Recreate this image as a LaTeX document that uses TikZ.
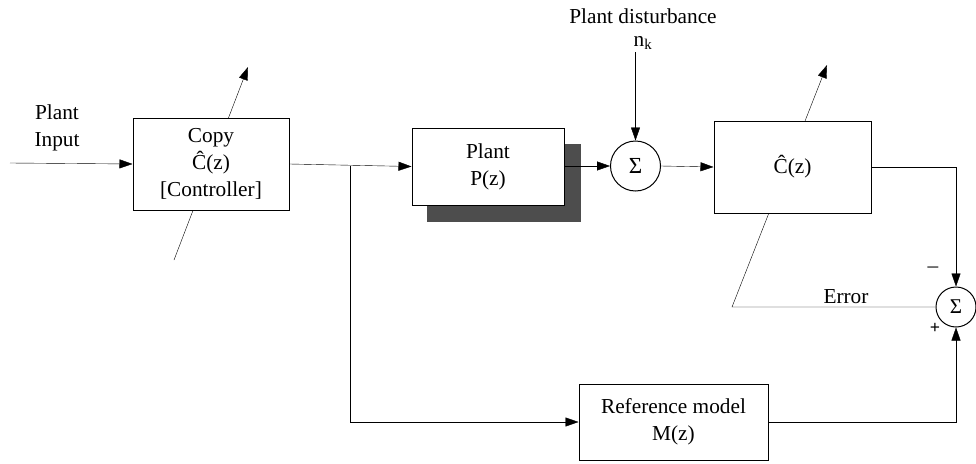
\documentclass[tikz,border=0pt]{standalone}
\usepackage{fontspec}
\setmainfont{Liberation Serif}
\usetikzlibrary{arrows.meta}
\pgfdeclarelayer{background}
\pgfsetlayers{background,main}
\definecolor{shadowgray}{HTML}{4D4D4D}
\begin{document}
\begin{tikzpicture}[x=1pt,y=-1pt,
  line width=1pt,
  >={Triangle[length=13pt,width=9pt]},
  txt/.style={font=\fontsize{21.3}{27}\selectfont, align=center, inner sep=0pt},
  block/.style={draw, fill=white, txt},
  sumnode/.style={draw, circle, fill=white, inner sep=0pt, font=\fontsize{23}{23}\selectfont}]
\useasboundingbox (0,0) rectangle (976,463);

% blocks
\fill[shadowgray] (427,144) rectangle (581,222);
\node[block, minimum width=156pt, minimum height=92pt] (copy) at (211,164) {Copy\\Ĉ(z)\\{[}Controller{]}};
\node[block, minimum width=152pt, minimum height=77pt] (plant) at (488,166.5) {Plant\\P(z)};
\node[sumnode, minimum size=50pt] (sum1) at (635.5,166) {Σ};
\node[block, minimum width=157pt, minimum height=92pt] (chat) at (792.5,167) {Ĉ(z)};
\node[sumnode, minimum size=40pt, font=\fontsize{21}{21}\selectfont] (sum2) at (956,307) {Σ};
\node[block, minimum width=189pt, minimum height=76pt] (ref) at (673.5,422) {Reference model\\M(z)};

% labels
\node[txt] (inlbl) at (57,128) {Plant\\Input};
\node[txt] (distlbl) at (643,16) {Plant disturbance};
\node[txt] (nk) at (643,43) {n\textsubscript{k}};
\node[txt] (errlbl) at (846,297) {Error};
\node[txt] (minus) at (933,270) {–};
\node[txt, font=\fontsize{18}{18}\selectfont\bfseries] (plus) at (935,328) {+};

% free ends
\coordinate (inpt) at (10,163);
\coordinate (copyLo) at (174,260);
\coordinate (copyHi) at (248,67);
\coordinate (distTop) at (635.5,52);
\coordinate (branch) at (350,165.5);
\coordinate (branchLo) at (350,422);
\coordinate (errL) at (732,307);
\coordinate (chatHi) at (827,65);
\coordinate (chatCorner) at (956,167);
\coordinate (refCorner) at (956,422);

% adaptation arrows run behind the blocks
\begin{pgfonlayer}{background}
  \draw[->] (copyLo) -- (copyHi);
  \draw[->] (sum2.west) -- (errL) -- (chatHi);
\end{pgfonlayer}

% signal flow
\draw[->] (inpt) -- (copy.west);
\draw[->] (copy.east) -- (plant.west);
\draw[->] (plant.east |- sum1.west) -- (sum1.west);
\draw[->] (distTop) -- (sum1.north);
\draw[->] (sum1.east) -- (chat.west);
\draw[->] (chat.east) -- (chatCorner) -- (sum2.north);
\draw[->] (branch) -- (branchLo) -- (ref.west);
\draw[->] (ref.east) -- (refCorner) -- (sum2.south);
\end{tikzpicture}
\end{document}
